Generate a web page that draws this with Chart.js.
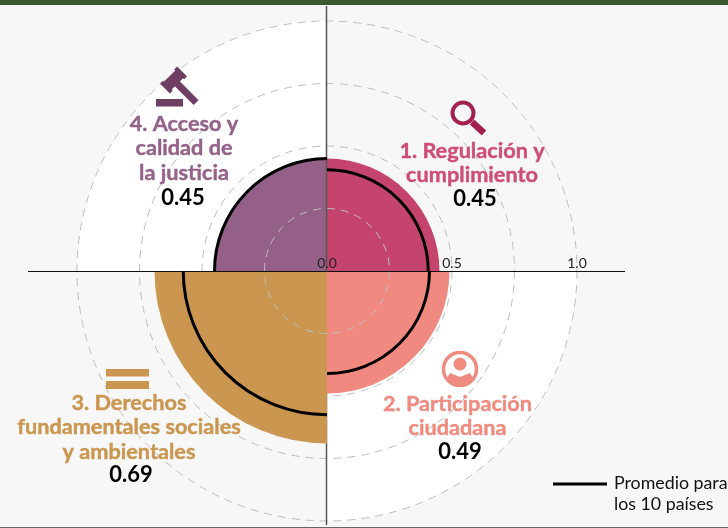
<!DOCTYPE html>
<html>
<head>
<meta charset="utf-8">
<title>Dimensiones</title>
<script src="https://cdn.jsdelivr.net/npm/chart.js@4"></script>
<style>
  html, body { margin: 0; padding: 0; background: #f7f7f7; overflow: hidden; }
  canvas { display: block; }
</style>
</head>
<body>
<canvas id="myChart" width="728" height="528"></canvas>
<script>
var categories = ['1. Regulación y cumplimiento', '2. Participación ciudadana', '3. Derechos fundamentales sociales y ambientales', '4. Acceso y calidad de la justicia'];
var scores = [0.45, 0.49, 0.69, 0.45];
var averages = [0.405, 0.41, 0.575, 0.45];
var whiteBands = [0, 1, 0, 1];
var colors = ['#c4446e', '#f08a80', '#cb964f', '#946087'];
var tickLabels = ['0.0', '0.5', '1.0'];
var tickValues = [0, 0.5, 1];
var scoreLabels = ['0.45', '0.49', '0.69', '0.45'];
var innerRing = 0.25;

var gridColor = '#bdbdbd';
var gridDash = [8, 6];

// text blocks next to each quadrant
var blocks = [
  { x: 472, y: 151, color: '#cf4d75', lines: ['1. Regulación y', 'cumplimiento'], valueX: 475, valueY: 199 },
  { x: 457.5, y: 404, color: '#f08b80', lines: ['2. Participación', 'ciudadana'], valueX: 460, valueY: 452 },
  { x: 129, y: 403, color: '#cb964f', lines: ['3. Derechos', 'fundamentales sociales', 'y ambientales'], valueX: 131, valueY: 475 },
  { x: 184, y: 124, color: '#956289', lines: ['4. Acceso y', 'calidad de', 'la justicia'], valueX: 183, valueY: 198 }
];

function drawIcons(c) {
  // lupa
  c.strokeStyle = '#a3214f';
  c.lineWidth = 4;
  c.beginPath(); c.arc(463, 113, 10.5, 0, Math.PI * 2); c.stroke();
  c.lineWidth = 6.5;
  c.beginPath(); c.moveTo(472, 122); c.lineTo(484, 133); c.stroke();

  // persona
  c.strokeStyle = '#f08b80';
  c.fillStyle = '#f08b80';
  c.lineWidth = 3.5;
  c.beginPath(); c.arc(460, 369, 16.5, 0, Math.PI * 2); c.stroke();
  c.beginPath(); c.arc(460, 364, 6.5, 0, Math.PI * 2); c.fill();
  c.save();
  c.beginPath(); c.arc(460, 369, 16.5, 0, Math.PI * 2); c.clip();
  c.beginPath(); c.moveTo(442, 388); c.lineTo(450, 373); c.lineTo(460, 377); c.lineTo(470, 373); c.lineTo(478, 388); c.closePath(); c.fill();
  c.restore();

  // signo igual
  c.fillStyle = '#cb964f';
  c.fillRect(106, 369, 43, 7.5);
  c.fillRect(106, 381, 43, 8);

  // mazo
  c.fillStyle = '#6e3f62';
  c.fillRect(156, 99, 27, 7.5);
  c.save();
  c.translate(173.5, 80);
  c.rotate(Math.PI / 4);
  c.fillRect(0, -3.5, 32, 7);
  c.fillRect(-5.5, -12, 11, 24);
  c.fillRect(-7, -12, 14, 4);
  c.fillRect(-7, 8, 14, 4);
  c.restore();
}

var decorPlugin = {
  id: 'decor',
  beforeDraw: function (chart) {
    // cuadrantes blancos, tienen que quedar debajo de los anillos
    var s = chart.scales.r, c = chart.ctx;
    c.save();
    c.fillStyle = '#ffffff';
    whiteBands.forEach(function (v, i) {
      if (!v) return;
      var start = -Math.PI / 2 + i * Math.PI / 2;
      c.beginPath();
      c.moveTo(s.xCenter, s.yCenter);
      c.arc(s.xCenter, s.yCenter, s.getDistanceFromCenterForValue(v), start, start + Math.PI / 2);
      c.closePath();
      c.fill();
    });
    c.restore();
  },
  beforeDatasetsDraw: function (chart) {
    // mitad inferior del eje, queda debajo de las areas
    var s = chart.scales.r, c = chart.ctx;
    c.save();
    c.strokeStyle = '#555';
    c.lineWidth = 1.5;
    c.beginPath(); c.moveTo(s.xCenter - 0.5, s.yCenter); c.lineTo(s.xCenter - 0.5, 525); c.stroke();
    c.restore();
  },
  afterDraw: function (chart) {
    var s = chart.scales.r, c = chart.ctx;
    c.save();

    c.fillStyle = '#3a5a2e';
    c.fillRect(0, 0, 728, 5);
    c.fillStyle = '#666';
    c.fillRect(0, 527, 728, 1);

    // el anillo interior se ve encima de las areas
    c.strokeStyle = gridColor;
    c.lineWidth = 1;
    c.setLineDash(gridDash);
    c.beginPath();
    c.arc(s.xCenter, s.yCenter, s.getDistanceFromCenterForValue(innerRing), 0, Math.PI * 2);
    c.stroke();
    c.setLineDash([]);

    c.strokeStyle = '#111';
    c.lineWidth = 1;
    c.beginPath(); c.moveTo(28, s.yCenter + 0.5); c.lineTo(625, s.yCenter + 0.5); c.stroke();
    c.strokeStyle = '#555';
    c.lineWidth = 1.5;
    c.beginPath(); c.moveTo(s.xCenter - 0.5, 6); c.lineTo(s.xCenter - 0.5, s.yCenter); c.stroke();

    // promedio: solo el arco exterior de cada cuadrante
    c.strokeStyle = '#000';
    c.lineWidth = 3;
    averages.forEach(function (v, i) {
      var start = -Math.PI / 2 + i * Math.PI / 2;
      c.beginPath();
      c.arc(s.xCenter, s.yCenter, s.getDistanceFromCenterForValue(v), start, start + Math.PI / 2);
      c.stroke();
    });

    c.textAlign = 'center';
    c.textBaseline = 'middle';
    c.fillStyle = '#222';
    c.font = '14px Lato';
    tickValues.forEach(function (v, i) {
      c.fillText(tickLabels[i], s.xCenter + s.getDistanceFromCenterForValue(v), s.yCenter - 8);
    });

    blocks.forEach(function (b, i) {
      c.font = 'bold 21.7px Lato';
      c.fillStyle = b.color;
      c.strokeStyle = b.color;
      c.lineWidth = 0.4;
      b.lines.forEach(function (line, j) {
        c.fillText(line, b.x, b.y + j * 24.5);
        c.strokeText(line, b.x, b.y + j * 24.5);
      });
      c.fillStyle = '#000';
      c.font = 'bold 22px Lato';
      c.fillText(scoreLabels[i], b.valueX, b.valueY);
    });

    drawIcons(c);

    c.strokeStyle = '#000';
    c.lineWidth = 3;
    c.beginPath(); c.moveTo(553, 484); c.lineTo(607, 484); c.stroke();
    c.textAlign = 'left';
    c.fillStyle = '#111';
    c.font = '17.8px Lato';
    c.fillText('Promedio para', 614, 483);
    c.fillText('los 10 países', 614, 504);

    c.restore();
  }
};

var ctx = document.getElementById("myChart").getContext("2d");
var myChart = new Chart(ctx, {
  type: "polarArea",
  data: {
    labels: categories,
    datasets: [{
      label: 'Puntaje',
      data: scores,
      backgroundColor: colors,
      borderWidth: 0
    }]
  },
  plugins: [decorPlugin],
  options: {
    responsive: false,
    animation: false,
    layout: { padding: { left: 77, right: 151, top: 21, bottom: 7 } },
    plugins: { legend: { display: false }, tooltip: { enabled: false } },
    scales: {
      r: {
        min: 0,
        max: 1,
        ticks: { display: false, stepSize: 0.25 },
        grid: { circular: true, color: gridColor, lineWidth: 1 },
        border: { dash: gridDash },
        angleLines: { display: false }
      }
    }
  }
});
</script>
</body>
</html>
